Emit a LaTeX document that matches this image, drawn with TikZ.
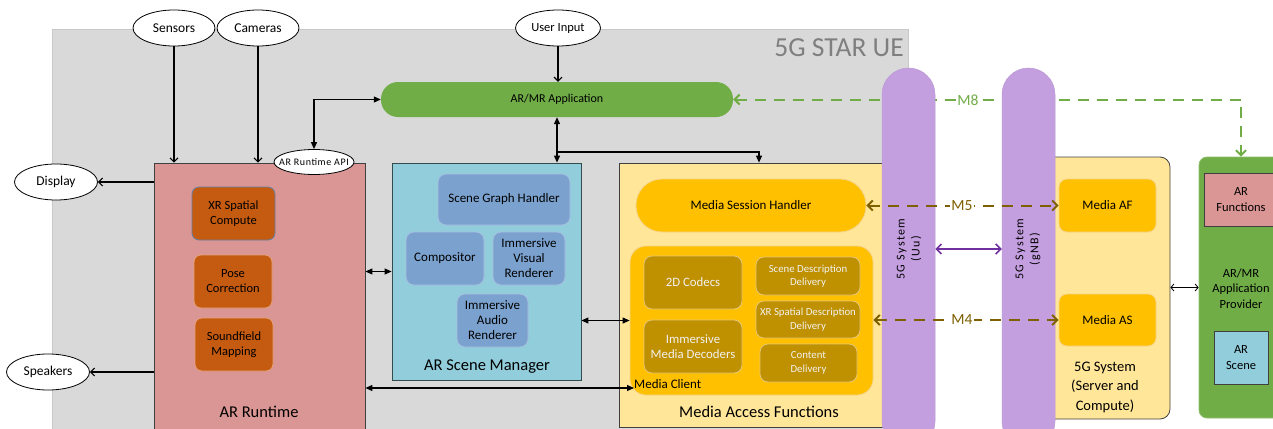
\documentclass[tikz,border=0pt]{standalone}
\usepackage{fontspec}
\setmainfont{Carlito}
\newfontfamily\widefont[LetterSpace=12]{Carlito}
\newfontfamily\apifont[LetterSpace=6]{Carlito}
\usetikzlibrary{shapes.geometric,arrows.meta}
\definecolor{bggray}{HTML}{D9D9D9}
\definecolor{bgline}{HTML}{C8C8C8}
\definecolor{titlegray}{HTML}{7F7F7F}
\definecolor{rtpink}{HTML}{DA9694}
\definecolor{rust}{HTML}{C55A11}
\definecolor{rustline}{HTML}{E3A27A}
\definecolor{asmblue}{HTML}{92CDDC}
\definecolor{midblue}{HTML}{7BA2CF}
\definecolor{midblueline}{HTML}{A6C0E0}
\definecolor{mafyellow}{HTML}{FFE699}
\definecolor{orangey}{HTML}{FFC000}
\definecolor{orangeline}{HTML}{F5D58A}
\definecolor{gold}{HTML}{BF9000}
\definecolor{goldline}{HTML}{E3C77A}
\definecolor{lilac}{HTML}{C49FE0}
\definecolor{appgreen}{HTML}{70AD47}
\definecolor{dashbrown}{HTML}{7F6000}
\definecolor{violet}{HTML}{7030A0}
\definecolor{darkline}{HTML}{404040}
\definecolor{lighttext}{HTML}{F2F2F2}
\begin{document}
\begin{tikzpicture}[x=1pt,y=-1pt,
  ell/.style={ellipse,draw=black,fill=white,line width=0.8pt,inner sep=0pt,font=\fontsize{13.5}{15}\selectfont},
  bigbox/.style={rectangle,draw=darkline,line width=0.8pt,inner sep=0pt},
  rustbox/.style={rectangle,rounded corners=7pt,fill=rust,draw=rustline,line width=0.8pt,inner sep=0pt,align=center,font=\fontsize{12.5}{15}\selectfont},
  bluebox/.style={rectangle,rounded corners=8pt,fill=midblue,draw=midblueline,line width=0.8pt,inner sep=0pt,align=center,font=\fontsize{13}{15}\selectfont},
  orbox/.style={rectangle,rounded corners=8pt,fill=orangey,draw=orangeline,line width=0.8pt,inner sep=0pt,align=center,font=\fontsize{13}{15}\selectfont},
  goldbox/.style={rectangle,rounded corners=8pt,fill=gold,draw=goldline,line width=0.8pt,inner sep=0pt,align=center,text=lighttext,font=\fontsize{12.8}{15}\selectfont},
  goldsmall/.style={goldbox,font=\fontsize{10.8}{13.5}\selectfont},
  biglabel/.style={font=\fontsize{16.5}{19.5}\selectfont,align=center,inner sep=0pt},
  bar/.style={rectangle,rounded corners=26.5pt,fill=lilac,draw=lilac!85!gray,line width=0.5pt,inner sep=0pt},
  conn/.style={line width=1.1pt,black},
  otip/.style={-{Straight Barb[length=4pt,width=8pt]}},
  ftip/.style={{Triangle[length=7pt,width=6pt]}-{Triangle[length=7pt,width=6pt]}},
  dashm/.style={line width=2pt,dash pattern=on 11pt off 8pt},
  mlabel/.style={fill=white,inner sep=1pt,font=\fontsize{15.5}{17}\selectfont}
]
\useasboundingbox (0,0) rectangle (1273,428);

% background UE area
\fill[bggray,draw=bgline,line width=0.8pt] (52,29) rectangle (908,440);
\node[anchor=east,text=titlegray,font=\fontsize{27.5}{30}\selectfont,inner sep=0pt] (uetitle) at (904,48) {5G STAR UE};

% ellipses
\node[ell,minimum width=82,minimum height=36] (sensors) at (174,28) {Sensors};
\node[ell,minimum width=82,minimum height=36] (cameras) at (258,28) {Cameras};
\node[ell,minimum width=85,minimum height=36,inner xsep=-6pt,font=\fontsize{12.5}{14}\selectfont] (userin) at (558,28) {User Input};
\node[ell,minimum width=83,minimum height=36] (display) at (56,182) {Display};
\node[ell,minimum width=83,minimum height=36] (speakers) at (48,372) {Speakers};

% AR/MR application
\node[rectangle,rounded corners=17pt,fill=appgreen,inner sep=0pt,minimum width=352,minimum height=35,font=\fontsize{12}{14}\selectfont] (app) at (557,99.5) {AR/MR Application};

% AR Runtime
\node[bigbox,fill=rtpink,minimum width=211,minimum height=266] (arrt) at (259.5,296) {};
\node[rustbox,draw=midblue!80!black,minimum width=83,minimum height=53] (xrsc) at (233.5,213.5) {XR Spatial\\Compute};
\node[rustbox,minimum width=78,minimum height=53] (pose) at (233,281.5) {Pose\\Correction};
\node[rustbox,minimum width=78,minimum height=53] (sound) at (234,344.5) {Soundfield\\Mapping};
\node[biglabel] (arrtlbl) at (259,412) {AR Runtime};
\node[ell,minimum width=80,minimum height=25,inner xsep=-14pt,inner ysep=0pt,font=\apifont\fontsize{10}{12}\selectfont] (api) at (314,162) {AR Runtime API};

% AR Scene Manager
\node[bigbox,fill=asmblue,draw=darkline!80!teal,minimum width=189,minimum height=217] (asm) at (486.5,271.5) {};
\node[bluebox,minimum width=132,minimum height=51] (sgh) at (504,199.5) {Scene Graph Handler};
\node[bluebox,minimum width=78,minimum height=53] (comp) at (445,258.5) {Compositor};
\node[bluebox,minimum width=72,minimum height=53] (ivr) at (529,258.5) {Immersive\\Visual\\Renderer};
\node[bluebox,minimum width=71,minimum height=53] (iar) at (492.5,320.5) {Immersive\\Audio\\Renderer};
\node[biglabel] (asmlbl) at (487,367) {AR Scene Manager};

% Media Access Functions
\node[bigbox,fill=mafyellow,minimum width=276,minimum height=264] (maf) at (757,295) {};
\node[orbox,rounded corners=26pt,minimum width=230,minimum height=53] (msh) at (751,205.5) {Media Session Handler};
\node[rectangle,rounded corners=16pt,fill=orangey,draw=orangeline,line width=0.8pt,minimum width=243,minimum height=149] (mc) at (751.5,320.5) {};
\node[goldbox,minimum width=98,minimum height=53] (codecs) at (693,282.5) {2D Codecs};
\node[goldbox,minimum width=98,minimum height=53] (imd) at (693,346.5) {Immersive\\Media Decoders};
\node[goldsmall,minimum width=104,minimum height=38] (sdd) at (808,276) {Scene Description\\Delivery};
\node[goldsmall,minimum width=104,minimum height=37] (xrsdd) at (808,319.5) {XR Spatial Description\\Delivery};
\node[goldsmall,minimum width=97,minimum height=38] (cdel) at (808.5,363) {Content\\Delivery};
\node[anchor=west,inner sep=0pt,font=\fontsize{13}{15}\selectfont] (mcl) at (634,384) {Media Client};
\node[biglabel] (maflbl) at (759,412) {Media Access Functions};

% 5G System server box
\node[rectangle,rounded corners=10pt,fill=mafyellow,draw=darkline,line width=0.8pt,minimum width=140,minimum height=262] (srv) at (1100,288) {};
\node[orbox,minimum width=97,minimum height=53] (maf_af) at (1107.5,205.5) {Media AF};
\node[orbox,minimum width=97,minimum height=52] (maf_as) at (1107.5,320) {Media AS};
\node[biglabel,font=\fontsize{14.5}{19.5}\selectfont] (srvlbl) at (1105,387) {5G System\\(Server and\\Compute)};

% Application provider
\node[rectangle,rounded corners=8pt,fill=appgreen,draw=appgreen!80!white,line width=0.8pt,minimum width=84,minimum height=261] (prov) at (1241,287.5) {};
\node[rectangle,fill=rtpink,draw=darkline,line width=0.8pt,minimum width=74,minimum height=53,align=center,font=\fontsize{12.5}{15.5}\selectfont] (arfun) at (1241,199.5) {AR\\Functions};
\node[align=center,inner sep=0pt,font=\fontsize{12.5}{15.5}\selectfont] (provlbl) at (1241,288.5) {AR/MR\\Application\\Provider};
\node[rectangle,fill=asmblue,draw=darkline,line width=0.8pt,minimum width=54,minimum height=53,align=center,font=\fontsize{12.5}{15.5}\selectfont] (arscene) at (1241,357.5) {AR\\Scene};

% connectors
\draw[conn,otip] (sensors.south) -- (sensors.south |- arrt.north);
\draw[conn,otip] (cameras.south) -- (cameras.south |- arrt.north);
\draw[conn,otip] (userin.south) -- (userin.south |- app.north);
\draw[conn,otip] (arrt.west |- display.east) -- (display.east);
\draw[conn,otip] (arrt.west |- speakers.east) -- (speakers.east);
\draw[conn,ftip] (api.north) |- (app.west);
\draw[conn,ftip] (app.south) -- (app.south |- asm.north);
\coordinate (branch) at (557,152);
\draw[conn,-{Triangle[length=7pt,width=6pt]}] (branch) -| ([xshift=2pt]maf.north);
\draw[conn,ftip] (arrt.east |- asm.west) -- (asm.west);
\draw[conn,ftip] (asm.east |- mc.west) -- (mc.west);
\draw[conn,ftip] (arrt.east |- 0,388) -- (mcl.west |- 0,388);
\draw[line width=0.8pt,{Straight Barb[length=3pt,width=7pt]}-{Straight Barb[length=3pt,width=7pt]}] (srv.east |- prov.west) -- (prov.west);

% M8 (behind the 5G bars)
\draw[appgreen,dashm,{Straight Barb[length=5pt,width=10pt]}-{Straight Barb[length=5pt,width=10pt]}] (app.east) -| (prov.north);
\node[mlabel,text=appgreen] (m8) at (968,100) {M8};

% 5G system bars
\node[bar,minimum width=53,minimum height=380] (bar1) at (908.5,258) {};
\node[bar,minimum width=53,minimum height=380] (bar2) at (1028.5,258) {};
\node[rotate=90,align=center,inner sep=0pt,font=\widefont\fontsize{12}{15}\selectfont] (t1) at (909,249) {5G System\\(Uu)};
\node[rotate=90,align=center,inner sep=0pt,font=\widefont\fontsize{12}{15}\selectfont] (t2) at (1028,249) {5G System\\(gNB)};

% M5, M4 and Uu link
\draw[dashbrown,dashm,{Straight Barb[length=5pt,width=10pt]}-{Straight Barb[length=5pt,width=10pt]}] (msh.east) -- (maf_af.west);
\node[mlabel,text=dashbrown] (m5) at (962,205.5) {M5};
\draw[dashbrown,dashm,{Straight Barb[length=5pt,width=10pt]}-{Straight Barb[length=5pt,width=10pt]}] (mc.east |- maf_as.west) -- (maf_as.west);
\node[mlabel,text=dashbrown] (m4) at (962,320) {M4};
\draw[violet,line width=1.6pt,{Straight Barb[length=5pt,width=10pt]}-{Straight Barb[length=5pt,width=10pt]}] (bar1.east |- t1) -- (bar2.west |- t1);
\end{tikzpicture}
\end{document}
